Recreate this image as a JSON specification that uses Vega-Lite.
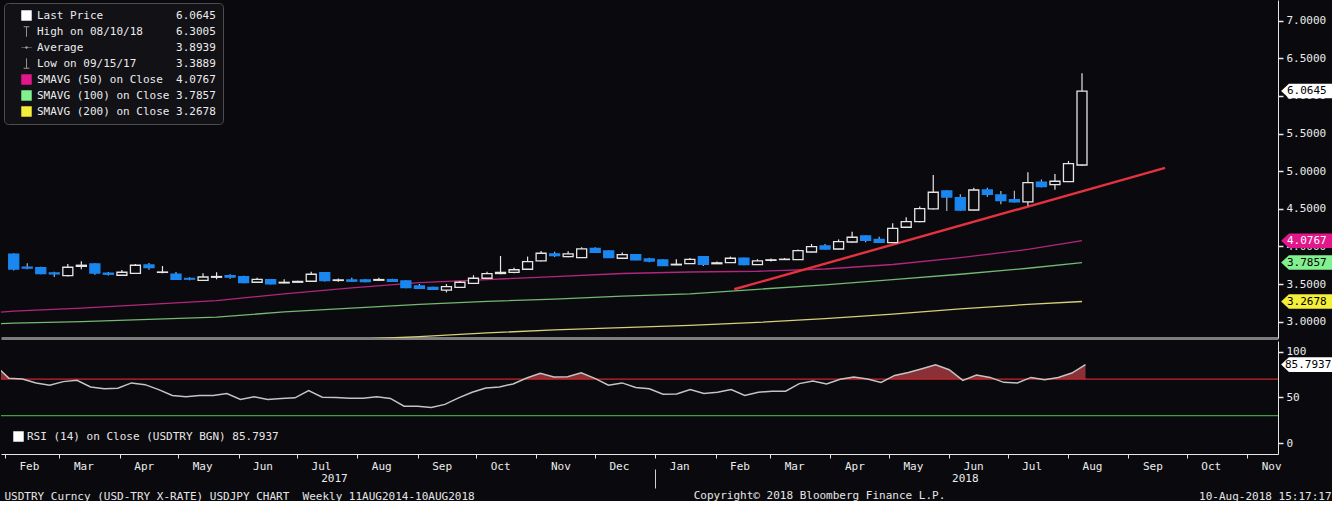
{
  "$schema": "https://vega.github.io/schema/vega-lite/v6.json",
  "background": "#0a0a0e",
  "padding": 0,
  "bounds": "flush",
  "spacing": 3,
  "config": {
    "font": "DejaVu Sans Mono",
    "view": {"stroke": null},
    "axis": {"grid": false, "labelColor": "#ececec", "labelFont": "DejaVu Sans Mono", "labelFontSize": 11, "tickColor": "#e6e6e6", "domainColor": "#e6e6e6", "titleColor": "#e6e6e6", "titleFont": "DejaVu Sans Mono", "titleFontSize": 11, "titleFontWeight": "normal"},
    "text": {"font": "DejaVu Sans Mono"}
  },
  "resolve": {"scale": {"color": "independent", "shape": "independent", "fill": "independent", "stroke": "independent", "x": "independent", "y": "independent"}},
  "datasets": {
    "candles": [
      {"date":"2017-02-03","open":3.896,"high":3.91,"low":3.68,"close":3.700},
      {"date":"2017-02-10","open":3.725,"high":3.776,"low":3.697,"close":3.712},
      {"date":"2017-02-17","open":3.717,"high":3.73,"low":3.63,"close":3.640},
      {"date":"2017-02-24","open":3.648,"high":3.665,"low":3.595,"close":3.635},
      {"date":"2017-03-03","open":3.611,"high":3.767,"low":3.60,"close":3.723},
      {"date":"2017-03-10","open":3.735,"high":3.803,"low":3.697,"close":3.750},
      {"date":"2017-03-17","open":3.767,"high":3.775,"low":3.625,"close":3.647},
      {"date":"2017-03-24","open":3.645,"high":3.66,"low":3.615,"close":3.630},
      {"date":"2017-03-31","open":3.617,"high":3.687,"low":3.61,"close":3.657},
      {"date":"2017-04-07","open":3.643,"high":3.767,"low":3.635,"close":3.750},
      {"date":"2017-04-14","open":3.753,"high":3.78,"low":3.69,"close":3.718},
      {"date":"2017-04-21","open":3.655,"high":3.740,"low":3.643,"close":3.660},
      {"date":"2017-04-28","open":3.630,"high":3.66,"low":3.555,"close":3.563},
      {"date":"2017-05-05","open":3.575,"high":3.59,"low":3.55,"close":3.565},
      {"date":"2017-05-12","open":3.550,"high":3.643,"low":3.545,"close":3.594},
      {"date":"2017-05-19","open":3.590,"high":3.657,"low":3.563,"close":3.600},
      {"date":"2017-05-26","open":3.610,"high":3.63,"low":3.57,"close":3.592},
      {"date":"2017-06-02","open":3.598,"high":3.61,"low":3.51,"close":3.518},
      {"date":"2017-06-09","open":3.524,"high":3.585,"low":3.52,"close":3.563},
      {"date":"2017-06-16","open":3.558,"high":3.565,"low":3.495,"close":3.501},
      {"date":"2017-06-23","open":3.515,"high":3.563,"low":3.51,"close":3.523},
      {"date":"2017-06-30","open":3.524,"high":3.545,"low":3.52,"close":3.535},
      {"date":"2017-07-07","open":3.537,"high":3.665,"low":3.53,"close":3.630},
      {"date":"2017-07-14","open":3.651,"high":3.66,"low":3.535,"close":3.545},
      {"date":"2017-07-21","open":3.548,"high":3.575,"low":3.53,"close":3.555},
      {"date":"2017-07-28","open":3.555,"high":3.585,"low":3.53,"close":3.538},
      {"date":"2017-08-04","open":3.555,"high":3.565,"low":3.525,"close":3.533},
      {"date":"2017-08-11","open":3.550,"high":3.585,"low":3.54,"close":3.560},
      {"date":"2017-08-18","open":3.558,"high":3.57,"low":3.53,"close":3.537},
      {"date":"2017-08-25","open":3.541,"high":3.55,"low":3.445,"close":3.452},
      {"date":"2017-09-01","open":3.475,"high":3.50,"low":3.44,"close":3.444},
      {"date":"2017-09-08","open":3.457,"high":3.465,"low":3.42,"close":3.431},
      {"date":"2017-09-15","open":3.420,"high":3.50,"low":3.3889,"close":3.465},
      {"date":"2017-09-22","open":3.457,"high":3.54,"low":3.45,"close":3.524},
      {"date":"2017-09-29","open":3.510,"high":3.617,"low":3.50,"close":3.577},
      {"date":"2017-10-06","open":3.577,"high":3.665,"low":3.57,"close":3.638},
      {"date":"2017-10-13","open":3.640,"high":3.873,"low":3.63,"close":3.655},
      {"date":"2017-10-20","open":3.655,"high":3.718,"low":3.645,"close":3.690},
      {"date":"2017-10-27","open":3.697,"high":3.865,"low":3.69,"close":3.797},
      {"date":"2017-11-03","open":3.807,"high":3.940,"low":3.80,"close":3.909},
      {"date":"2017-11-10","open":3.900,"high":3.93,"low":3.86,"close":3.878},
      {"date":"2017-11-17","open":3.864,"high":3.935,"low":3.855,"close":3.900},
      {"date":"2017-11-24","open":3.851,"high":3.99,"low":3.845,"close":3.967},
      {"date":"2017-12-01","open":3.975,"high":3.99,"low":3.915,"close":3.922},
      {"date":"2017-12-08","open":3.940,"high":3.95,"low":3.845,"close":3.851},
      {"date":"2017-12-15","open":3.843,"high":3.92,"low":3.835,"close":3.890},
      {"date":"2017-12-22","open":3.890,"high":3.90,"low":3.815,"close":3.820},
      {"date":"2017-12-29","open":3.833,"high":3.85,"low":3.79,"close":3.806},
      {"date":"2018-01-05","open":3.820,"high":3.83,"low":3.74,"close":3.744},
      {"date":"2018-01-12","open":3.755,"high":3.830,"low":3.75,"close":3.763},
      {"date":"2018-01-19","open":3.771,"high":3.845,"low":3.765,"close":3.829},
      {"date":"2018-01-26","open":3.864,"high":3.87,"low":3.74,"close":3.763},
      {"date":"2018-02-02","open":3.770,"high":3.80,"low":3.765,"close":3.782},
      {"date":"2018-02-09","open":3.784,"high":3.865,"low":3.78,"close":3.843},
      {"date":"2018-02-16","open":3.843,"high":3.85,"low":3.75,"close":3.758},
      {"date":"2018-02-23","open":3.758,"high":3.83,"low":3.752,"close":3.807},
      {"date":"2018-03-02","open":3.815,"high":3.84,"low":3.80,"close":3.822},
      {"date":"2018-03-09","open":3.826,"high":3.845,"low":3.82,"close":3.830},
      {"date":"2018-03-16","open":3.824,"high":3.96,"low":3.82,"close":3.944},
      {"date":"2018-03-23","open":3.926,"high":4.033,"low":3.92,"close":3.997},
      {"date":"2018-03-30","open":4.006,"high":4.033,"low":3.96,"close":3.966},
      {"date":"2018-04-06","open":3.966,"high":4.093,"low":3.96,"close":4.063},
      {"date":"2018-04-13","open":4.059,"high":4.196,"low":4.05,"close":4.122},
      {"date":"2018-04-20","open":4.139,"high":4.15,"low":4.055,"close":4.082},
      {"date":"2018-04-27","open":4.095,"high":4.13,"low":4.05,"close":4.055},
      {"date":"2018-05-04","open":4.05,"high":4.308,"low":4.045,"close":4.241},
      {"date":"2018-05-11","open":4.255,"high":4.388,"low":4.25,"close":4.330},
      {"date":"2018-05-18","open":4.329,"high":4.53,"low":4.32,"close":4.502},
      {"date":"2018-05-25","open":4.498,"high":4.950,"low":4.49,"close":4.720},
      {"date":"2018-06-01","open":4.737,"high":4.745,"low":4.471,"close":4.657},
      {"date":"2018-06-08","open":4.648,"high":4.695,"low":4.475,"close":4.484},
      {"date":"2018-06-15","open":4.484,"high":4.78,"low":4.48,"close":4.750},
      {"date":"2018-06-22","open":4.750,"high":4.78,"low":4.66,"close":4.693},
      {"date":"2018-06-29","open":4.684,"high":4.737,"low":4.56,"close":4.608},
      {"date":"2018-07-06","open":4.621,"high":4.741,"low":4.585,"close":4.591},
      {"date":"2018-07-13","open":4.591,"high":4.985,"low":4.542,"close":4.847},
      {"date":"2018-07-20","open":4.853,"high":4.89,"low":4.785,"close":4.794},
      {"date":"2018-07-27","open":4.821,"high":4.963,"low":4.754,"close":4.866},
      {"date":"2018-08-03","open":4.860,"high":5.136,"low":4.855,"close":5.100},
      {"date":"2018-08-10","open":5.082,"high":6.3005,"low":5.07,"close":6.0645}
    ],
    "sma": [
      {"date":"2017-01-27","series":"SMAVG (50) on Close","value":3.125},
      {"date":"2017-02-03","series":"SMAVG (50) on Close","value":3.14},
      {"date":"2017-03-10","series":"SMAVG (50) on Close","value":3.18},
      {"date":"2017-04-14","series":"SMAVG (50) on Close","value":3.23},
      {"date":"2017-05-19","series":"SMAVG (50) on Close","value":3.28},
      {"date":"2017-06-23","series":"SMAVG (50) on Close","value":3.37},
      {"date":"2017-07-28","series":"SMAVG (50) on Close","value":3.45},
      {"date":"2017-09-01","series":"SMAVG (50) on Close","value":3.52},
      {"date":"2017-10-06","series":"SMAVG (50) on Close","value":3.56},
      {"date":"2017-11-10","series":"SMAVG (50) on Close","value":3.60},
      {"date":"2017-12-15","series":"SMAVG (50) on Close","value":3.64},
      {"date":"2018-01-19","series":"SMAVG (50) on Close","value":3.66},
      {"date":"2018-02-23","series":"SMAVG (50) on Close","value":3.67},
      {"date":"2018-03-30","series":"SMAVG (50) on Close","value":3.70},
      {"date":"2018-05-04","series":"SMAVG (50) on Close","value":3.76},
      {"date":"2018-06-08","series":"SMAVG (50) on Close","value":3.85},
      {"date":"2018-07-13","series":"SMAVG (50) on Close","value":3.96},
      {"date":"2018-08-10","series":"SMAVG (50) on Close","value":4.0767},
      {"date":"2017-01-27","series":"SMAVG (100) on Close","value":2.975},
      {"date":"2017-02-03","series":"SMAVG (100) on Close","value":2.98},
      {"date":"2017-03-10","series":"SMAVG (100) on Close","value":3.00},
      {"date":"2017-04-14","series":"SMAVG (100) on Close","value":3.03},
      {"date":"2017-05-19","series":"SMAVG (100) on Close","value":3.06},
      {"date":"2017-06-23","series":"SMAVG (100) on Close","value":3.13},
      {"date":"2017-07-28","series":"SMAVG (100) on Close","value":3.18},
      {"date":"2017-09-01","series":"SMAVG (100) on Close","value":3.23},
      {"date":"2017-10-06","series":"SMAVG (100) on Close","value":3.27},
      {"date":"2017-11-10","series":"SMAVG (100) on Close","value":3.30},
      {"date":"2017-12-15","series":"SMAVG (100) on Close","value":3.34},
      {"date":"2018-01-19","series":"SMAVG (100) on Close","value":3.37},
      {"date":"2018-02-23","series":"SMAVG (100) on Close","value":3.43},
      {"date":"2018-03-30","series":"SMAVG (100) on Close","value":3.49},
      {"date":"2018-05-04","series":"SMAVG (100) on Close","value":3.56},
      {"date":"2018-06-08","series":"SMAVG (100) on Close","value":3.63},
      {"date":"2018-07-13","series":"SMAVG (100) on Close","value":3.71},
      {"date":"2018-08-10","series":"SMAVG (100) on Close","value":3.7857},
      {"date":"2017-06-23","series":"SMAVG (200) on Close","value":2.72},
      {"date":"2017-07-28","series":"SMAVG (200) on Close","value":2.765},
      {"date":"2017-09-01","series":"SMAVG (200) on Close","value":2.80},
      {"date":"2017-10-06","series":"SMAVG (200) on Close","value":2.85},
      {"date":"2017-11-10","series":"SMAVG (200) on Close","value":2.89},
      {"date":"2017-12-15","series":"SMAVG (200) on Close","value":2.92},
      {"date":"2018-01-19","series":"SMAVG (200) on Close","value":2.95},
      {"date":"2018-02-23","series":"SMAVG (200) on Close","value":2.99},
      {"date":"2018-03-30","series":"SMAVG (200) on Close","value":3.04},
      {"date":"2018-05-04","series":"SMAVG (200) on Close","value":3.10},
      {"date":"2018-06-08","series":"SMAVG (200) on Close","value":3.17},
      {"date":"2018-07-13","series":"SMAVG (200) on Close","value":3.23},
      {"date":"2018-08-10","series":"SMAVG (200) on Close","value":3.2678}
    ],
    "trend": [
      {"date":"2018-02-11","value":3.431},
      {"date":"2018-09-22","value":5.043}
    ],
    "pbadge": [
      {"name":"Last Price","value":6.0645},
      {"name":"SMAVG (50) on Close","value":4.0767},
      {"name":"SMAVG (100) on Close","value":3.7857},
      {"name":"SMAVG (200) on Close","value":3.2678}
    ],
    "rbadge": [
      {"name":"RSI","value":85.7937}
    ],
    "rsi": [
      {"date":"2017-01-27","rsi":85},
      {"date":"2017-02-03","rsi":71},
      {"date":"2017-02-10","rsi":70.1},
      {"date":"2017-02-17","rsi":65.8},
      {"date":"2017-02-24","rsi":63.2},
      {"date":"2017-03-03","rsi":67.2},
      {"date":"2017-03-10","rsi":68.6},
      {"date":"2017-03-17","rsi":61.4},
      {"date":"2017-03-24","rsi":59.3},
      {"date":"2017-03-31","rsi":59.9},
      {"date":"2017-04-07","rsi":65.8},
      {"date":"2017-04-14","rsi":63.9},
      {"date":"2017-04-21","rsi":58.5},
      {"date":"2017-04-28","rsi":52},
      {"date":"2017-05-05","rsi":50.6},
      {"date":"2017-05-12","rsi":52},
      {"date":"2017-05-19","rsi":52},
      {"date":"2017-05-26","rsi":54.2},
      {"date":"2017-06-02","rsi":47.7},
      {"date":"2017-06-09","rsi":50.6},
      {"date":"2017-06-16","rsi":47.7},
      {"date":"2017-06-23","rsi":48.8},
      {"date":"2017-06-30","rsi":49.5},
      {"date":"2017-07-07","rsi":57.4},
      {"date":"2017-07-14","rsi":50.2},
      {"date":"2017-07-21","rsi":49.8},
      {"date":"2017-07-28","rsi":49.1},
      {"date":"2017-08-04","rsi":49.1},
      {"date":"2017-08-11","rsi":50.6},
      {"date":"2017-08-18","rsi":48.8},
      {"date":"2017-08-25","rsi":40.4},
      {"date":"2017-09-01","rsi":40.4},
      {"date":"2017-09-08","rsi":39},
      {"date":"2017-09-15","rsi":42.3},
      {"date":"2017-09-22","rsi":49.5},
      {"date":"2017-09-29","rsi":55.6},
      {"date":"2017-10-06","rsi":60.3},
      {"date":"2017-10-13","rsi":61.4},
      {"date":"2017-10-20","rsi":64.7},
      {"date":"2017-10-27","rsi":71.2},
      {"date":"2017-11-03","rsi":76.2},
      {"date":"2017-11-10","rsi":72.3},
      {"date":"2017-11-17","rsi":72.6},
      {"date":"2017-11-24","rsi":76.9},
      {"date":"2017-12-01","rsi":70.8},
      {"date":"2017-12-08","rsi":63.2},
      {"date":"2017-12-15","rsi":65.8},
      {"date":"2017-12-22","rsi":60.7},
      {"date":"2017-12-29","rsi":59.3},
      {"date":"2018-01-05","rsi":53.5},
      {"date":"2018-01-12","rsi":53.8},
      {"date":"2018-01-19","rsi":58.5},
      {"date":"2018-01-26","rsi":54.2},
      {"date":"2018-02-02","rsi":55.6},
      {"date":"2018-02-09","rsi":58.5},
      {"date":"2018-02-16","rsi":52},
      {"date":"2018-02-23","rsi":55.6},
      {"date":"2018-03-02","rsi":56.7},
      {"date":"2018-03-09","rsi":56.7},
      {"date":"2018-03-16","rsi":65},
      {"date":"2018-03-23","rsi":67.9},
      {"date":"2018-03-30","rsi":64.7},
      {"date":"2018-04-06","rsi":69.7},
      {"date":"2018-04-13","rsi":72.3},
      {"date":"2018-04-20","rsi":70.1},
      {"date":"2018-04-27","rsi":66.4},
      {"date":"2018-05-04","rsi":74},
      {"date":"2018-05-11","rsi":77.2},
      {"date":"2018-05-18","rsi":81.3},
      {"date":"2018-05-25","rsi":85.6},
      {"date":"2018-06-01","rsi":80.2},
      {"date":"2018-06-08","rsi":68.6},
      {"date":"2018-06-15","rsi":74.4},
      {"date":"2018-06-22","rsi":71.8},
      {"date":"2018-06-29","rsi":66.4},
      {"date":"2018-07-06","rsi":65.8},
      {"date":"2018-07-13","rsi":71.8},
      {"date":"2018-07-20","rsi":69.3},
      {"date":"2018-07-27","rsi":71.8},
      {"date":"2018-08-03","rsi":76.6},
      {"date":"2018-08-10","rsi":85.7937}
    ]
  },
  "vconcat": [
    {
      "width": 1277,
      "height": 338,
      "layer": [
        {
          "data": {"name": "sma"},
          "mark": {"type": "line", "strokeWidth": 1.3, "clip": true},
          "encoding": {
            "x": {"field": "date", "type": "temporal",
              "scale": {"domain": [{"year": 2017, "month": 1, "date": 30}, {"year": 2018, "month": 11, "date": 16, "hours": 21}]},
              "axis": {"orient": "bottom", "domain": true, "domainColor": "#7c7c7c", "domainWidth": 3, "ticks": false, "labels": false,
                "title": "10-Aug-2018 15:17:17", "titleX": 1330, "titleY": 158, "titleAlign": "right", "titleBaseline": "middle"}},
            "y": {"field": "value", "type": "quantitative",
              "scale": {"domain": [2.783, 7.275], "nice": false, "zero": false},
              "axis": {"orient": "right", "values": [3, 3.25, 3.5, 3.75, 4, 4.25, 4.5, 4.75, 5, 5.25, 5.5, 5.75, 6, 6.25, 6.5, 6.75, 7],
                "labelExpr": "(datum.value * 2) % 1 == 0 ? format(datum.value, '.4f') : ''",
                "tickSize": 5, "tickWidth": 1.5, "labelPadding": 3, "title": null, "labelBaseline": "middle"}},
            "stroke": {"field": "series", "type": "nominal",
              "scale": {"domain": ["SMAVG (50) on Close", "SMAVG (100) on Close", "SMAVG (200) on Close"], "range": ["#b3267e", "#74b872", "#d6d07a"]},
              "legend": null}
          }
        },
        {
          "data": {"name": "trend"},
          "mark": {"type": "line", "color": "#e5323f", "strokeWidth": 2.4, "clip": true},
          "encoding": {
            "x": {"field": "date", "type": "temporal"},
            "y": {"field": "value", "type": "quantitative"}
          }
        },
        {
          "data": {"name": "candles"},
          "mark": {"type": "rule", "strokeWidth": 1.2, "clip": true},
          "encoding": {
            "x": {"field": "date", "type": "temporal"},
            "y": {"field": "low", "type": "quantitative"},
            "y2": {"field": "high"},
            "color": {"condition": {"test": "datum.close < datum.open", "value": "#a9b8c8"}, "value": "#e6e6e6"}
          }
        },
        {
          "data": {"name": "candles"},
          "mark": {"type": "bar", "width": 10, "strokeWidth": 1.3, "clip": true},
          "encoding": {
            "x": {"field": "date", "type": "temporal"},
            "y": {"field": "open", "type": "quantitative"},
            "y2": {"field": "close"},
            "fill": {"condition": {"test": "datum.close < datum.open", "value": "#1a86f0"}, "value": "#0a0a0e"},
            "stroke": {"condition": {"test": "datum.close < datum.open", "value": "#1a86f0"}, "value": "#e6e6e6"}
          }
        },
        {
          "data": {"name": "sma"},
          "mark": {"type": "point", "filled": true, "opacity": 0, "clip": true},
          "encoding": {
            "x": {"field": "date", "type": "temporal"},
            "y": {"field": "value", "type": "quantitative"},
            "color": {"field": "series", "type": "nominal",
              "scale": {"domain": ["Last Price", "High on 08/10/18", "Average", "Low on 09/15/17", "SMAVG (50) on Close", "SMAVG (100) on Close", "SMAVG (200) on Close"],
                "range": ["#ffffff", "#9a9a9a", "#9a9a9a", "#9a9a9a", "#e3178c", "#83f08f", "#f4ef3a"]},
              "legend": {"title": null, "orient": "top-left", "offset": 3, "padding": 7, "fillColor": "#111116", "strokeColor": "#4d4d4d", "cornerRadius": 4,
                "labelFont": "DejaVu Sans Mono", "labelFontSize": 11, "labelColor": "#ececec", "labelLimit": 400, "symbolSize": 110, "symbolOpacity": 1,
                "symbolStrokeWidth": 0, "rowPadding": 4, "symbolOffset": 10, "labelOffset": 5,
                "labelExpr": "datum.label == 'Last Price' ? 'Last Price\u00a0\u00a0\u00a0\u00a0\u00a0\u00a0\u00a0\u00a0\u00a0\u00a0\u00a06.0645' : datum.label == 'High on 08/10/18' ? 'High on 08/10/18\u00a0\u00a0\u00a0\u00a0\u00a06.3005' : datum.label == 'Average' ? 'Average\u00a0\u00a0\u00a0\u00a0\u00a0\u00a0\u00a0\u00a0\u00a0\u00a0\u00a0\u00a0\u00a0\u00a03.8939' : datum.label == 'Low on 09/15/17' ? 'Low on 09/15/17\u00a0\u00a0\u00a0\u00a0\u00a0\u00a03.3889' : datum.label == 'SMAVG (50) on Close' ? 'SMAVG (50) on Close\u00a0\u00a04.0767' : datum.label == 'SMAVG (100) on Close' ? 'SMAVG (100) on Close\u00a03.7857' : 'SMAVG (200) on Close\u00a03.2678'"}},
            "shape": {"field": "series", "type": "nominal",
              "scale": {"domain": ["Last Price", "High on 08/10/18", "Average", "Low on 09/15/17", "SMAVG (50) on Close", "SMAVG (100) on Close", "SMAVG (200) on Close"],
                "range": ["square", "M-0.55,-1H0.55V-0.82H0.09V1H-0.09V-0.82H-0.55Z", "M-1,-0.07H-0.3L0,-0.3L0.3,-0.07H1V0.07H0.3L0,0.3L-0.3,0.07H-1Z", "M-0.09,-1H0.09V0.82H0.55V1H-0.55V0.82H-0.09Z", "square", "square", "square"]},
              "legend": {"title": null, "orient": "top-left", "offset": 3, "padding": 7, "fillColor": "#111116", "strokeColor": "#4d4d4d", "cornerRadius": 4,
                "labelFont": "DejaVu Sans Mono", "labelFontSize": 11, "labelColor": "#ececec", "labelLimit": 400, "symbolSize": 110, "symbolOpacity": 1,
                "symbolStrokeWidth": 0, "rowPadding": 4, "symbolOffset": 10, "labelOffset": 5,
                "labelExpr": "datum.label == 'Last Price' ? 'Last Price\u00a0\u00a0\u00a0\u00a0\u00a0\u00a0\u00a0\u00a0\u00a0\u00a0\u00a06.0645' : datum.label == 'High on 08/10/18' ? 'High on 08/10/18\u00a0\u00a0\u00a0\u00a0\u00a06.3005' : datum.label == 'Average' ? 'Average\u00a0\u00a0\u00a0\u00a0\u00a0\u00a0\u00a0\u00a0\u00a0\u00a0\u00a0\u00a0\u00a0\u00a03.8939' : datum.label == 'Low on 09/15/17' ? 'Low on 09/15/17\u00a0\u00a0\u00a0\u00a0\u00a0\u00a03.3889' : datum.label == 'SMAVG (50) on Close' ? 'SMAVG (50) on Close\u00a0\u00a04.0767' : datum.label == 'SMAVG (100) on Close' ? 'SMAVG (100) on Close\u00a03.7857' : 'SMAVG (200) on Close\u00a03.2678'"}}
          }
        },
        {
          "data": {"name": "pbadge"},
          "mark": {"type": "point", "filled": true, "opacity": 1, "strokeWidth": 0, "size": 2704, "shape": "M0.12,0L0.42,-0.28L2.15,-0.28L2.15,0.28L0.42,0.28Z"},
          "encoding": {
            "x": {"value": "width"},
            "y": {"field": "value", "type": "quantitative"},
            "fill": {"field": "name", "type": "nominal",
              "scale": {"domain": ["Last Price", "SMAVG (50) on Close", "SMAVG (100) on Close", "SMAVG (200) on Close"], "range": ["#ffffff", "#e3178c", "#83f08f", "#f4ef3a"]},
              "legend": null}
          }
        },
        {
          "data": {"name": "pbadge"},
          "mark": {"type": "text", "align": "left", "baseline": "middle", "dx": 9, "fontSize": 11, "font": "DejaVu Sans Mono"},
          "encoding": {
            "x": {"value": "width"},
            "y": {"field": "value", "type": "quantitative"},
            "text": {"field": "value", "type": "quantitative", "format": ".4f"},
            "color": {"condition": {"test": "datum.name == 'SMAVG (50) on Close'", "value": "#ffffff"}, "value": "#000000"}
          }
        }
      ]
    },
    {
      "width": 1277,
      "height": 113,
      "resolve": {"axis": {"x": "independent"}},
      "layer": [
        {
          "data": {"name": "rsi"},
          "mark": {"type": "area", "color": "#8a3036", "clip": true},
          "encoding": {
            "x": {"field": "date", "type": "temporal",
              "scale": {"domain": [{"year": 2017, "month": 1, "date": 30}, {"year": 2018, "month": 11, "date": 16, "hours": 21}]},
              "axis": {"orient": "bottom", "values": [{"year": 2017, "month": 7, "date": 20}, {"year": 2018, "month": 1, "date": 1}, {"year": 2018, "month": 6, "date": 9}],
                "labelExpr": "month(datum.value) == 0 ? '' : timeFormat(datum.value, '%Y')",
                "domain": false, "offset": 15, "tickSize": 19, "tickColor": "#cfcfcf",
                "tickOpacity": {"condition": {"test": "month(datum.value) == 0", "value": 1}, "value": 0},
                "labelPadding": -16, "labelBaseline": "top", "labelOverlap": false, "labelBound": false, "labelFlush": false,
                "title": "Copyright\u00a9 2018 Bloomberg Finance L.P.", "titleX": 818, "titleY": 26, "titleAlign": "center", "titleBaseline": "middle"}},
            "y": {"field": "rsi", "type": "quantitative",
              "scale": {"domain": [-11.9, 111.6], "nice": false, "zero": false},
              "axis": {"orient": "right", "values": [0, 25, 50, 75, 100], "labelExpr": "datum.value % 50 == 0 ? datum.label : ''",
                "tickSize": 5, "tickWidth": 1.5, "labelPadding": 3, "title": null, "labelBaseline": "middle"}},
            "y2": {"datum": 70}
          }
        },
        {
          "data": {"name": "rsi"},
          "mark": {"type": "area", "color": "#0a0a0e", "clip": true},
          "encoding": {
            "x": {"field": "date", "type": "temporal", "axis": null},
            "y": {"datum": 70, "type": "quantitative"},
            "y2": {"datum": -20}
          }
        },
        {
          "data": {"values": [{}]},
          "mark": {"type": "rule", "color": "#c8262c", "strokeWidth": 1.3},
          "encoding": {"y": {"datum": 70, "type": "quantitative"}}
        },
        {
          "data": {"values": [{}]},
          "mark": {"type": "rule", "color": "#3f9e42", "strokeWidth": 1.3},
          "encoding": {"y": {"datum": 30, "type": "quantitative"}}
        },
        {
          "data": {"name": "rsi"},
          "mark": {"type": "line", "color": "#c4c4c4", "strokeWidth": 1.5, "clip": true},
          "encoding": {
            "x": {"field": "date", "type": "temporal",
              "axis": {"orient": "bottom", "format": "%b", "tickCount": {"interval": "month", "step": 1}, "labelOffset": 24, "labelAlign": "center",
                "tickSize": 4, "labelPadding": 2, "labelOverlap": false, "labelBound": false, "labelFlush": false, "domainColor": "#e6e6e6",
                "title": "USDTRY Curncy (USD-TRY X-RATE) USDJPY CHART\u00a0 Weekly 11AUG2014-10AUG2018", "titleX": 3, "titleY": 42, "titleAlign": "left", "titleBaseline": "middle"}},
            "y": {"field": "rsi", "type": "quantitative"}
          }
        },
        {
          "data": {"name": "rsi"},
          "mark": {"type": "point", "filled": true, "opacity": 0, "shape": "square", "clip": true},
          "encoding": {
            "x": {"field": "date", "type": "temporal", "axis": null},
            "y": {"field": "rsi", "type": "quantitative"},
            "color": {"datum": "RSI (14) on Close (USDTRY BGN) 85.7937", "type": "nominal",
              "scale": {"range": ["#ffffff"]},
              "legend": {"title": null, "orient": "bottom-left", "offset": 12, "padding": 0, "symbolSize": 110, "symbolType": "square", "symbolOpacity": 1,
                "symbolStrokeWidth": 0, "labelFont": "DejaVu Sans Mono", "labelFontSize": 11, "labelColor": "#e6e6e6", "labelOffset": 3, "labelLimit": 400}}
          }
        },
        {
          "data": {"name": "rbadge"},
          "mark": {"type": "point", "filled": true, "opacity": 1, "strokeWidth": 0, "size": 2704, "color": "#ffffff", "shape": "M0.12,0L0.42,-0.28L2.15,-0.28L2.15,0.28L0.42,0.28Z"},
          "encoding": {
            "x": {"value": "width"},
            "y": {"field": "value", "type": "quantitative"}
          }
        },
        {
          "data": {"name": "rbadge"},
          "mark": {"type": "text", "align": "left", "baseline": "middle", "dx": 7, "fontSize": 11, "font": "DejaVu Sans Mono", "color": "#000000"},
          "encoding": {
            "x": {"value": "width"},
            "y": {"field": "value", "type": "quantitative"},
            "text": {"field": "value", "type": "quantitative", "format": ".4f"}
          }
        }
      ]
    }
  ]
}
